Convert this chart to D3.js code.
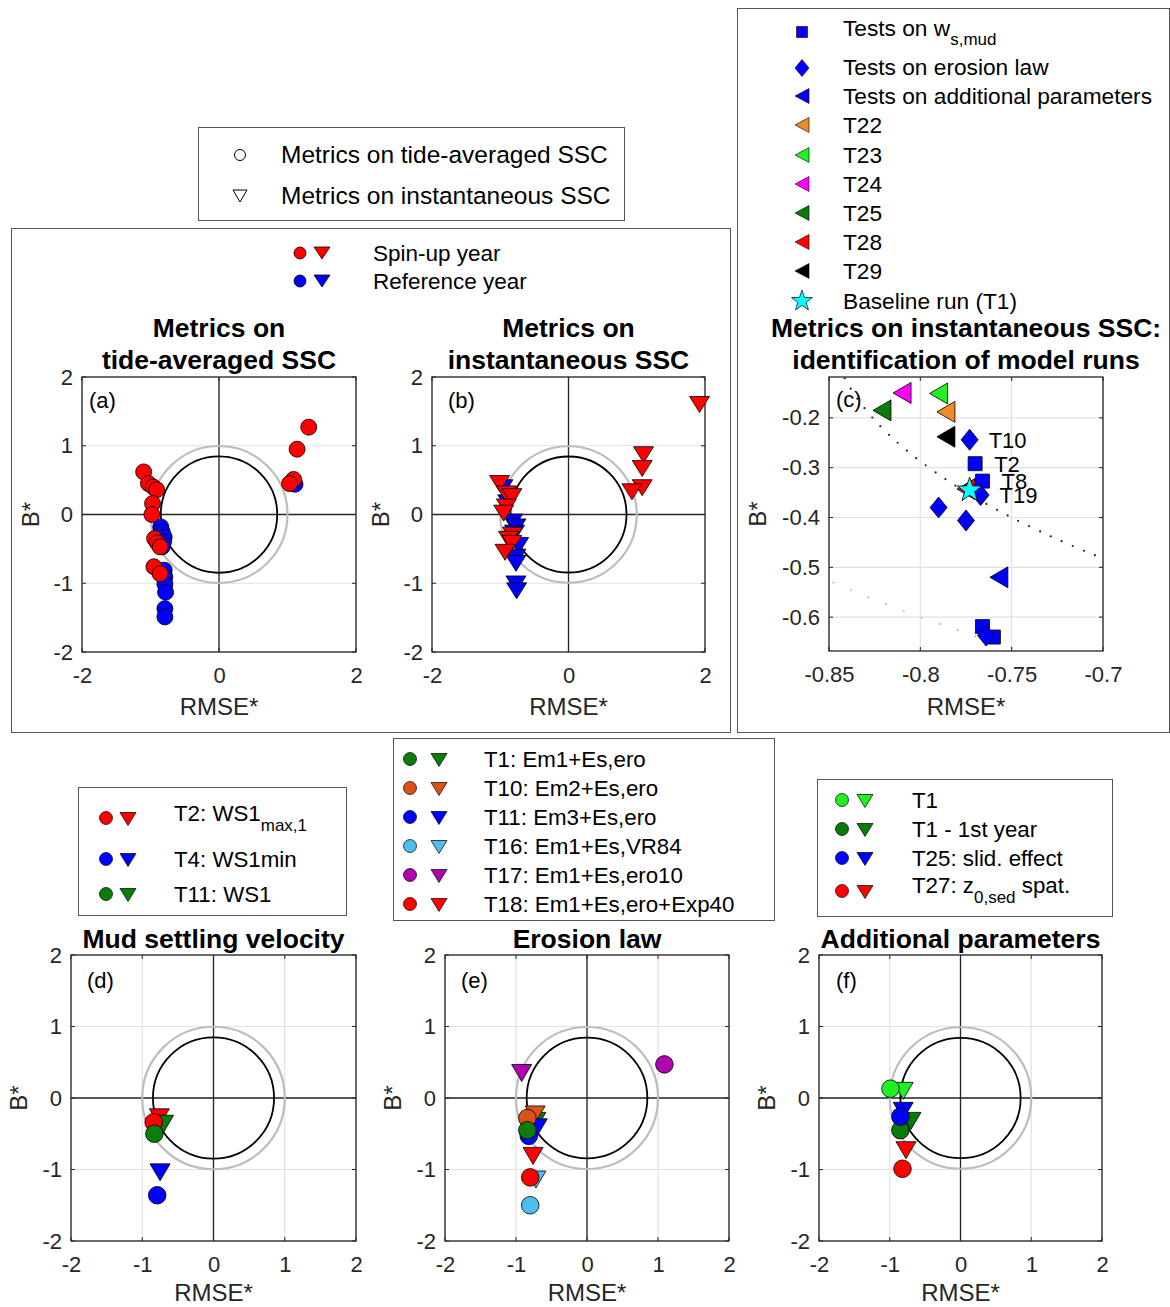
<!DOCTYPE html>
<html><head><meta charset="utf-8">
<script src="https://cdn.jsdelivr.net/npm/d3@7"></script>
<style>
body{margin:0;background:#fff}
svg{display:block}
text{font-family:"Liberation Sans",Arial,Helvetica,sans-serif}
</style>
</head><body>
<svg id="chart" width="1170" height="1307"></svg>
<script>
// ================= DATA =================
const axisTicksWide = [-2, 0, 2];
const axisTicksUnit = [-2, -1, 0, 1, 2];
const refCircleRadii = [1.0, 0.85];          // grey circle, black circle

// (a) metrics on tide-averaged SSC
const spinAvg = [[1.31,1.27],[1.14,0.95],[1.09,0.51],[1.03,0.45],[-1.10,0.62],[-1.03,0.45],[-0.96,0.40],[-0.91,0.36],[-0.97,0.16],[-0.98,0.00],[-0.94,-0.35],[-0.90,-0.41],[-0.86,-0.47],[-0.95,-0.76],[-0.86,-0.86]];
const refAvg  = [[1.11,0.44],[-0.85,-0.18],[-0.83,-0.25],[-0.80,-0.33],[-0.81,-0.40],[-0.83,-0.47],[-0.80,-0.81],[-0.79,-0.91],[-0.79,-1.01],[-0.78,-1.13],[-0.79,-1.37],[-0.79,-1.49]];
// (b) metrics on instantaneous SSC
const spinInst = [[1.92,1.60],[1.10,0.87],[1.08,0.67],[1.08,0.39],[0.93,0.33],[-1.01,0.45],[-0.91,0.30],[-0.83,0.26],[-0.91,0.11],[-0.95,0.02],[-0.82,-0.30],[-0.88,-0.36],[-0.83,-0.42],[-0.93,-0.55]];
const refInst  = [[-0.96,0.39],[-0.89,0.17],[-0.82,-0.11],[-0.77,-0.18],[-0.79,-0.27],[-0.73,-0.45],[-0.77,-0.62],[-0.77,-0.71],[-0.77,-1.01],[-0.76,-1.11]];
const yearLabels = ['Spin-up year', 'Reference year'];
const metricLabels = ['Metrics on tide-averaged SSC', 'Metrics on instantaneous SSC'];

// (c) identification of model runs (instantaneous SSC)
const cXTicks = [-0.85, -0.8, -0.75, -0.7];
const cYTicks = [-0.6, -0.5, -0.4, -0.3, -0.2];
const cXDomain = [-0.85, -0.7];
const cYDomain = [-0.668, -0.118];
const wsTests       = [[-0.770,-0.292],[-0.766,-0.327],[-0.766,-0.619],[-0.760,-0.640]];
const erosionTests  = [[-0.773,-0.244],[-0.767,-0.355],[-0.790,-0.380],[-0.775,-0.406],[-0.764,-0.637]];
const addParamTests = [[-0.757,-0.520]];
const namedRuns = ['T22','T23','T24','T25','T28','T29'];
const namedRunX = [-0.786,-0.790,-0.810,-0.821,-0.775,-0.786];
const namedRunY = [-0.188,-0.151,-0.150,-0.185,-0.343,-0.238];
const baselineRun = [-0.773,-0.345];
const cLabelNames = ['T10','T2','T8','T19'];
const cLabelX = [-0.773,-0.770,-0.766,-0.767];
const cLabelY = [-0.244,-0.292,-0.327,-0.355];
const cLegendGroups = ['Tests on w_{s,mud}','Tests on erosion law','Tests on additional parameters'];

// (d) mud settling velocity
const dRuns = ['T2: WS1_{max,1}','T4: WS1min','T11: WS1'];
const dAvg  = [[-0.84,-0.34],[-0.79,-1.36],[-0.83,-0.50]];
const dInst = [[-0.76,-0.27],[-0.75,-1.04],[-0.70,-0.36]];
// (e) erosion law
const eRuns = ['T1: Em1+Es,ero','T10: Em2+Es,ero','T11: Em3+Es,ero','T16: Em1+Es,VR84','T17: Em1+Es,ero10','T18: Em1+Es,ero+Exp40'];
const eAvg  = [[-0.84,-0.45],[-0.84,-0.28],[-0.82,-0.53],[-0.80,-1.50],[1.09,0.47],[-0.80,-1.11]];
const eInst = [[-0.72,-0.32],[-0.73,-0.23],[-0.70,-0.41],[-0.72,-1.14],[-0.92,0.35],[-0.76,-0.81]];
// (f) additional parameters
const fRuns = ['T1','T1 - 1st year','T25: slid. effect','T27: z_{0,sed} spat.'];
const fAvg  = [[-0.99,0.13],[-0.85,-0.45],[-0.85,-0.26],[-0.82,-0.99]];
const fInst = [[-0.81,0.10],[-0.70,-0.32],[-0.81,-0.18],[-0.77,-0.73]];

// ================= STYLE =================
const RED = '#ff0000', BLUE = '#0000ff';
const namedRunColors = ['#EC8A2C','#22f022','#ff00ff','#0a7a0a','#ff0000','#000000'];
const dColors = [RED, BLUE, '#0a7d0a'];
const eColors = ['#0a7d0a','#D95319',BLUE,'#4DBEEE','#B000B0',RED];
const fColors = ['#22f022','#0a7a0a',BLUE,RED];
const INK = '#262626';

const svg = d3.select('#chart');

// ================= HELPERS =================
const triDown = (w,h) => `M${-w/2},${-h/2}L${w/2},${-h/2}L0,${h/2}Z`;
const triLeft = (w,h) => `M${-w/2},0L${w/2},${-h/2}L${w/2},${h/2}Z`;
const diamond = (w,h) => `M0,${-h/2}L${w/2},0L0,${h/2}L${-w/2},0Z`;
const square  = (s) => `M${-s/2},${-s/2}h${s}v${s}h${-s}Z`;
function star(R){ const r=R*0.4; let p=''; for(let i=0;i<10;i++){const a=-Math.PI/2+i*Math.PI/5; const rr=i%2?r:R; p+=(i?'L':'M')+(rr*Math.cos(a)).toFixed(2)+','+(rr*Math.sin(a)).toFixed(2);} return p+'Z'; }

function text(g, x, y, s, o={}) {
  return g.append('text').attr('x',x).attr('y',y)
    .attr('font-size', o.size||22).attr('font-weight', o.weight||'normal')
    .attr('text-anchor', o.anchor||'start').attr('fill', o.fill||'#000').text(s);
}
function rich(g, x, y, s, size, subSize, subShift) {
  const t = g.append('text').attr('x',x).attr('y',y).attr('font-size',size).attr('fill','#000');
  const parts = s.split(/(_\{[^}]*\})/).filter(p=>p.length);
  let down = false;
  parts.forEach(p=>{
    if (p.startsWith('_{')) {
      t.append('tspan').attr('dy', subShift).attr('font-size', subSize).text(p.slice(2,-1));
      down = true;
    } else {
      const ts = t.append('tspan').text(p);
      if (down) { ts.attr('dy', -subShift); down = false; }
    }
  });
  return t;
}
function box(x0,y0,x1,y1){
  svg.append('rect').attr('x',x0+0.5).attr('y',y0+0.5).attr('width',x1-x0).attr('height',y1-y0)
    .attr('fill','none').attr('stroke','#555').attr('stroke-width',1);
}

// axes frame, grid, ticks, labels
function axesFrame(o, xs, ys) {
  const g = svg.append('g');
  const clipId = 'clip' + Math.round(o.L) + '_' + Math.round(o.T);
  g.append('clipPath').attr('id', clipId).append('rect')
    .attr('x',o.L).attr('y',o.T).attr('width',o.R-o.L).attr('height',o.B-o.T);
  g.selectAll(null).data(o.xt).join('line')
    .attr('x1',d=>xs(d)).attr('x2',d=>xs(d)).attr('y1',o.T).attr('y2',o.B)
    .attr('stroke','#e2e2e2').attr('stroke-width',1.2);
  g.selectAll(null).data(o.yt).join('line')
    .attr('y1',d=>ys(d)).attr('y2',d=>ys(d)).attr('x1',o.L).attr('x2',o.R)
    .attr('stroke','#e2e2e2').attr('stroke-width',1.2);
  const content = g.append('g').attr('clip-path', `url(#${clipId})`);
  const top = svg.append('g');
  top.append('rect').attr('x',o.L).attr('y',o.T).attr('width',o.R-o.L).attr('height',o.B-o.T)
    .attr('fill','none').attr('stroke',INK).attr('stroke-width',1.3);
  const tl = 4;
  o.xt.forEach(v=>{
    top.append('line').attr('x1',xs(v)).attr('x2',xs(v)).attr('y1',o.B).attr('y2',o.B-tl).attr('stroke',INK);
    top.append('line').attr('x1',xs(v)).attr('x2',xs(v)).attr('y1',o.T).attr('y2',o.T+tl).attr('stroke',INK);
  });
  o.yt.forEach(v=>{
    top.append('line').attr('y1',ys(v)).attr('y2',ys(v)).attr('x1',o.L).attr('x2',o.L+tl).attr('stroke',INK);
    top.append('line').attr('y1',ys(v)).attr('y2',ys(v)).attr('x1',o.R).attr('x2',o.R-tl).attr('stroke',INK);
  });
  const ax = svg.append('g').attr('transform',`translate(0,${o.B})`)
    .call(d3.axisBottom(xs).tickValues(o.xt).tickFormat(d=>String(d)).tickSize(0).tickPadding(15));
  const ay = svg.append('g').attr('transform',`translate(${o.L},0)`)
    .call(d3.axisLeft(ys).tickValues(o.yt).tickFormat(d=>String(d)).tickSize(0).tickPadding(9));
  [ax, ay].forEach(a=>{
    a.select('.domain').remove();
    a.attr('font-family',null).attr('font-size',null);
    a.selectAll('text').attr('font-size',22).attr('fill',INK)
      .style('font-family','"Liberation Sans",Arial,Helvetica,sans-serif');
  });
  text(svg, (o.L+o.R)/2, o.B+o.xlabOff, 'RMSE*', {size:24, anchor:'middle', fill:INK});
  svg.append('text').attr('transform',`translate(${o.L-o.ylabOff},${(o.T+o.B)/2}) rotate(-90)`)
    .attr('text-anchor','middle').attr('font-size',24).attr('fill',INK).text('B*');
  text(svg, o.L+o.letterDx, o.T+o.letterDy, o.letter, {size:22});
  o.title.forEach((t,i)=> text(svg, (o.L+o.R)/2, o.titleY[i], t, {size:26.5, weight:'bold', anchor:'middle'}));
  return {content, top};
}

function targetPanel(o) {
  const xs = d3.scaleLinear().domain([-2,2]).range([o.L,o.R]);
  const ys = d3.scaleLinear().domain([-2,2]).range([o.B,o.T]);
  const {content} = axesFrame(o, xs, ys);
  content.append('line').attr('x1',xs(-2)).attr('x2',xs(2)).attr('y1',ys(0)).attr('y2',ys(0)).attr('stroke',INK).attr('stroke-width',1.3);
  content.append('line').attr('y1',ys(-2)).attr('y2',ys(2)).attr('x1',xs(0)).attr('x2',xs(0)).attr('stroke',INK).attr('stroke-width',1.3);
  content.selectAll(null).data(refCircleRadii).join('circle')
    .attr('cx',xs(0)).attr('cy',ys(0)).attr('r',d=>xs(d)-xs(0)).attr('fill','none')
    .attr('stroke',(d,i)=> i===0 ? '#bdbdbd' : '#000').attr('stroke-width',(d,i)=> i===0 ? 2.2 : 1.8);
  const marks = svg.append('g');
  return {xs, ys, marks};
}

function drawTri(g, xs, ys, pts, color, w, h) {
  g.selectAll(null).data(pts).join('path')
    .attr('transform',d=>`translate(${xs(d[0])},${ys(d[1])})`).attr('d',triDown(w,h))
    .attr('fill',color).attr('stroke','#000').attr('stroke-width',0.8);
}
function drawCirc(g, xs, ys, pts, color, r) {
  g.selectAll(null).data(pts).join('circle')
    .attr('cx',d=>xs(d[0])).attr('cy',d=>ys(d[1])).attr('r',r)
    .attr('fill',color).attr('stroke','#000').attr('stroke-width',0.8);
}

// ================= OUTER BOXES & TOP LEGENDS =================
box(11,228,730,732);
box(737,8,1169,732);
box(198,127,624,220);

{
  const g = svg.append('g');
  g.append('circle').attr('cx',240).attr('cy',155).attr('r',5.5).attr('fill','none').attr('stroke','#000').attr('stroke-width',1);
  g.append('path').attr('transform','translate(240,196)').attr('d',triDown(14,12)).attr('fill','none').attr('stroke','#000').attr('stroke-width',1);
  metricLabels.forEach((t,i)=> text(g, 281, [163,204][i], t, {size:24.5}));
}
{
  const g = svg.append('g');
  [RED, BLUE].forEach((c,i)=>{
    const y = [253,281][i];
    g.append('circle').attr('cx',300).attr('cy',y).attr('r',6).attr('fill',c).attr('stroke','#000').attr('stroke-width',0.8);
    g.append('path').attr('transform',`translate(322,${y})`).attr('d',triDown(16,12)).attr('fill',c).attr('stroke','#000').attr('stroke-width',0.8);
    text(g, 373, y+8, yearLabels[i], {size:22.5});
  });
}

// ================= PANEL (a) =================
{
  const o = {L:82,R:356,T:377,B:652, xt:axisTicksWide, yt:axisTicksUnit, xlabOff:63, ylabOff:43,
    letter:'(a)', letterDx:7, letterDy:31, title:['Metrics on','tide-averaged SSC'], titleY:[337,369]};
  const {xs,ys,marks} = targetPanel(o);
  drawCirc(marks, xs, ys, refAvg, BLUE, 8);
  drawCirc(marks, xs, ys, spinAvg, RED, 8);
}
// ================= PANEL (b) =================
{
  const o = {L:432,R:705,T:377,B:652, xt:axisTicksWide, yt:axisTicksUnit, xlabOff:63, ylabOff:43,
    letter:'(b)', letterDx:16, letterDy:31, title:['Metrics on','instantaneous SSC'], titleY:[337,369]};
  const {xs,ys,marks} = targetPanel(o);
  drawTri(marks, xs, ys, refInst, BLUE, 20, 16);
  drawTri(marks, xs, ys, spinInst, RED, 20, 16);
}
// ================= PANEL (c) =================
{
  const o = {L:829,R:1103,T:377,B:651, xt:cXTicks, yt:cYTicks, xlabOff:64, ylabOff:63,
    letter:'(c)', letterDx:7, letterDy:30, title:['Metrics on instantaneous SSC:','identification of model runs'], titleY:[337,369]};
  const xs = d3.scaleLinear().domain(cXDomain).range([o.L,o.R]);
  const ys = d3.scaleLinear().domain(cYDomain).range([o.B,o.T]);
  const {content} = axesFrame(o, xs, ys);
  content.selectAll(null).data(refCircleRadii).join('ellipse')
    .attr('cx',xs(0)).attr('cy',ys(0))
    .attr('rx',d=>xs(d)-xs(0)).attr('ry',d=>ys(0)-ys(d))
    .attr('fill','none')
    .attr('stroke',(d,i)=> i===0 ? '#a8a8a8' : '#222')
    .attr('stroke-width',(d,i)=> i===0 ? 1.8 : 2.2)
    .attr('stroke-linecap','round')
    .attr('stroke-dasharray',(d,i)=> i===0 ? '0 19' : '0 12');
  const m = svg.append('g');
  m.selectAll(null).data(namedRuns).join('path')
    .attr('transform',(d,i)=>`translate(${xs(namedRunX[i])},${ys(namedRunY[i])})`)
    .attr('d',triLeft(18,21)).attr('fill',(d,i)=>namedRunColors[i]).attr('stroke','#000').attr('stroke-width',0.8);
  m.selectAll(null).data(addParamTests).join('path')
    .attr('transform',d=>`translate(${xs(d[0])},${ys(d[1])})`)
    .attr('d',triLeft(18,21)).attr('fill',BLUE).attr('stroke','#000').attr('stroke-width',0.8);
  m.selectAll(null).data(wsTests).join('path')
    .attr('transform',d=>`translate(${xs(d[0])},${ys(d[1])})`)
    .attr('d',square(14)).attr('fill',BLUE).attr('stroke','#000').attr('stroke-width',0.8);
  m.selectAll(null).data(erosionTests).join('path')
    .attr('transform',d=>`translate(${xs(d[0])},${ys(d[1])})`)
    .attr('d',diamond(17,21)).attr('fill',BLUE).attr('stroke','#000').attr('stroke-width',0.8);
  m.append('path').datum(baselineRun)
    .attr('transform',d=>`translate(${xs(d[0])},${ys(d[1])})`)
    .attr('d',star(13)).attr('fill','#00ffff').attr('stroke','#000').attr('stroke-width',0.8);
  cLabelNames.forEach((t,i)=> text(m, xs(cLabelX[i])+19, ys(cLabelY[i])+8, t, {size:22}));
}
// right legend
{
  const g = svg.append('g');
  const rows = [32,68,96,125,155,184,213,242,271,301];
  const mx = 802, tx = 843;
  g.append('path').attr('transform',`translate(${mx},${rows[0]})`).attr('d',square(11)).attr('fill',BLUE).attr('stroke','#000').attr('stroke-width',0.6);
  g.append('path').attr('transform',`translate(${mx},${rows[1]})`).attr('d',diamond(14,17)).attr('fill',BLUE).attr('stroke','#000').attr('stroke-width',0.6);
  g.append('path').attr('transform',`translate(${mx},${rows[2]})`).attr('d',triLeft(14,15)).attr('fill',BLUE).attr('stroke','#000').attr('stroke-width',0.6);
  namedRuns.forEach((t,i)=>{
    g.append('path').attr('transform',`translate(${mx},${rows[3+i]})`).attr('d',triLeft(14,15))
      .attr('fill',namedRunColors[i]).attr('stroke','#000').attr('stroke-width',0.6);
    text(g, tx, rows[3+i]+8, t, {size:22.7});
  });
  g.append('path').attr('transform',`translate(${mx},${rows[9]})`).attr('d',star(11)).attr('fill','#00ffff').attr('stroke','#000').attr('stroke-width',0.7);
  rich(g, tx, rows[0]+4, cLegendGroups[0], 22.7, 17, 9);
  text(g, tx, rows[1]+7, cLegendGroups[1], {size:22.7});
  text(g, tx, rows[2]+8, cLegendGroups[2], {size:22.7});
  text(g, tx, rows[9]+8, 'Baseline run (T1)', {size:22.7});
}

// ================= BOTTOM PANELS =================
function bottomLegend(x0,y0,x1,y1, labels, colors, cx, tx, rows, offs) {
  box(x0,y0,x1,y1);
  const g = svg.append('g');
  labels.forEach((t,i)=>{
    g.append('circle').attr('cx',cx[0]).attr('cy',rows[i]).attr('r',6.5).attr('fill',colors[i]).attr('stroke','#000').attr('stroke-width',0.7);
    g.append('path').attr('transform',`translate(${cx[1]},${rows[i]+1})`).attr('d',triDown(16,13)).attr('fill',colors[i]).attr('stroke','#000').attr('stroke-width',0.7);
    rich(g, tx, rows[i]+offs[i], t, 22.3, 17, 10);
  });
}
{
  const o = {L:71,R:356,T:955,B:1241, xt:axisTicksUnit, yt:axisTicksUnit, xlabOff:60, ylabOff:44,
    letter:'(d)', letterDx:16, letterDy:33, title:['Mud settling velocity'], titleY:[948]};
  const {xs,ys,marks} = targetPanel(o);
  dInst.forEach((p,i)=> drawTri(marks, xs, ys, [p], dColors[i], 20, 17));
  dAvg.forEach((p,i)=> drawCirc(marks, xs, ys, [p], dColors[i], 8.8));
  bottomLegend(78,787,346,915, dRuns, dColors, [106,128], 174, [818,859,894], [3,8,8]);
}
{
  const o = {L:445,R:729,T:955,B:1241, xt:axisTicksUnit, yt:axisTicksUnit, xlabOff:60, ylabOff:44,
    letter:'(e)', letterDx:16, letterDy:33, title:['Erosion law'], titleY:[948]};
  const {xs,ys,marks} = targetPanel(o);
  eInst.forEach((p,i)=> drawTri(marks, xs, ys, [p], eColors[i], 20, 17));
  [1,2,0,3,4,5].forEach(i=> drawCirc(marks, xs, ys, [eAvg[i]], eColors[i], 8.8));
  bottomLegend(393,738,774,920, eRuns, eColors, [410,439], 484, [759,788,817,846,875,904], [8,8,8,8,8,8]);
}
{
  const o = {L:819,R:1102,T:955,B:1241, xt:axisTicksUnit, yt:axisTicksUnit, xlabOff:60, ylabOff:44,
    letter:'(f)', letterDx:17, letterDy:33, title:['Additional parameters'], titleY:[948]};
  const {xs,ys,marks} = targetPanel(o);
  fInst.forEach((p,i)=> drawTri(marks, xs, ys, [p], fColors[i], 20, 17));
  [1,3,2,0].forEach(i=> drawCirc(marks, xs, ys, [fAvg[i]], fColors[i], 8.8));
  bottomLegend(817,779,1112,916, fRuns, fColors, [842,865], 912, [800,829,858,891], [8,8,8,2]);
}
</script>
</body></html>
